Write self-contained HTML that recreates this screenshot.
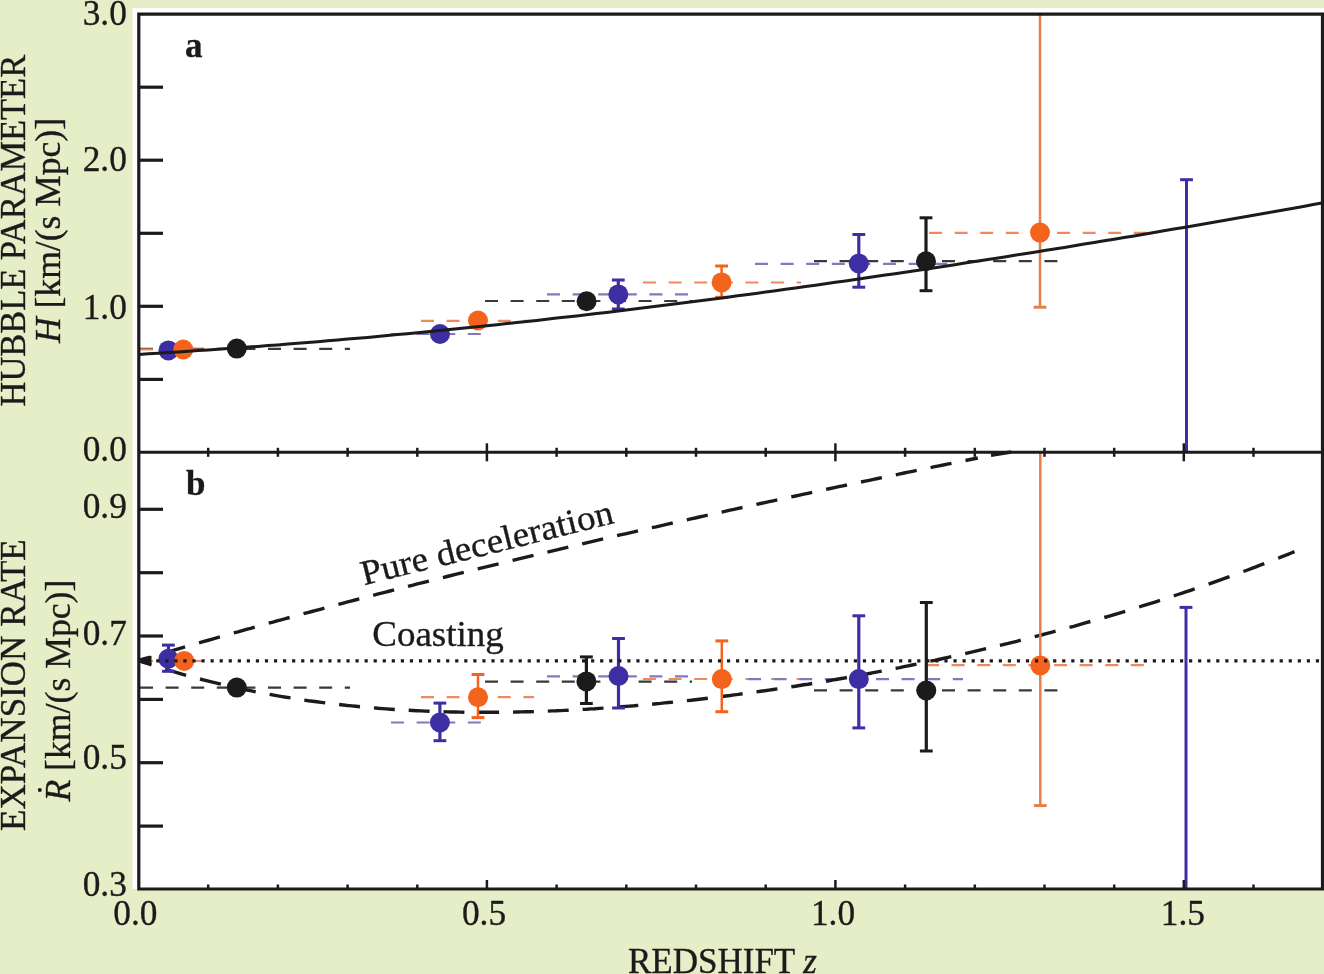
<!DOCTYPE html><html><head><meta charset="utf-8"><style>html,body{margin:0;padding:0;background:#e5eec6;}svg{display:block;will-change:transform}text{font-family:"Liberation Serif",serif;fill:#1c1a1b}</style></head><body>
<svg width="1324" height="974" viewBox="0 0 1324 974">
<rect width="1324" height="974" fill="#e5eec6"/>
<rect x="132.5" y="8.2" width="1191.5" height="880.8" fill="#fff"/>
<line x1="140" y1="348.8" x2="350" y2="348.8" stroke="#3a3839" stroke-width="2.2" stroke-dasharray="13 12.6" opacity="1.0"/>
<line x1="140" y1="349.5" x2="204" y2="349.5" stroke="#ef8a5c" stroke-width="2.2" stroke-dasharray="13 12.6" opacity="1.0"/>
<line x1="391" y1="334" x2="489" y2="334" stroke="#8079bd" stroke-width="2.2" stroke-dasharray="13 12.6" opacity="1.0"/>
<line x1="421" y1="320.8" x2="534" y2="320.8" stroke="#ef8a5c" stroke-width="2.2" stroke-dasharray="13 12.6" opacity="1.0"/>
<line x1="485" y1="301.0" x2="692" y2="301.0" stroke="#3a3839" stroke-width="2.2" stroke-dasharray="13 12.6" opacity="1.0"/>
<line x1="547" y1="294.4" x2="690" y2="294.4" stroke="#8079bd" stroke-width="2.2" stroke-dasharray="13 12.6" opacity="1.0"/>
<line x1="643" y1="282.5" x2="801" y2="282.5" stroke="#ef8a5c" stroke-width="2.2" stroke-dasharray="13 12.6" opacity="1.0"/>
<line x1="755" y1="263.8" x2="963" y2="263.8" stroke="#8079bd" stroke-width="2.2" stroke-dasharray="13 12.6" opacity="1.0"/>
<line x1="814" y1="261.1" x2="1064" y2="261.1" stroke="#3a3839" stroke-width="2.2" stroke-dasharray="13 12.6" opacity="1.0"/>
<line x1="929" y1="232.8" x2="1148" y2="232.8" stroke="#ef8a5c" stroke-width="2.2" stroke-dasharray="13 12.6" opacity="1.0"/>
<line x1="140" y1="687.6" x2="350" y2="687.6" stroke="#3a3839" stroke-width="2.2" stroke-dasharray="13 12.6" opacity="1.0"/>
<line x1="140" y1="661" x2="204" y2="661" stroke="#ef8a5c" stroke-width="2.2" stroke-dasharray="13 12.6" opacity="1.0"/>
<line x1="391" y1="722.5" x2="481" y2="722.5" stroke="#8079bd" stroke-width="2.2" stroke-dasharray="13 12.6" opacity="1.0"/>
<line x1="421" y1="697.1" x2="534" y2="697.1" stroke="#ef8a5c" stroke-width="2.2" stroke-dasharray="13 12.6" opacity="1.0"/>
<line x1="485" y1="681.6" x2="692" y2="681.6" stroke="#3a3839" stroke-width="2.2" stroke-dasharray="13 12.6" opacity="1.0"/>
<line x1="547" y1="676.3" x2="690" y2="676.3" stroke="#8079bd" stroke-width="2.2" stroke-dasharray="13 12.6" opacity="1.0"/>
<line x1="643" y1="679" x2="801" y2="679" stroke="#ef8a5c" stroke-width="2.2" stroke-dasharray="13 12.6" opacity="1.0"/>
<line x1="748" y1="679.2" x2="963" y2="679.2" stroke="#8079bd" stroke-width="2.2" stroke-dasharray="13 12.6" opacity="1.0"/>
<line x1="814" y1="690.3" x2="1063" y2="690.3" stroke="#3a3839" stroke-width="2.2" stroke-dasharray="13 12.6" opacity="1.0"/>
<line x1="926" y1="665.2" x2="1148" y2="665.2" stroke="#ef8a5c" stroke-width="2.2" stroke-dasharray="13 12.6" opacity="1.0"/>
<path d="M138.5,660.6 L140.8,659.9 L143.2,659.2 L145.5,658.5 L147.9,657.8 L150.2,657.1 M164.2,653.0 L168.3,651.8 L172.5,650.5 L176.7,649.3 L180.9,648.1 L185.1,646.9 M199.0,642.8 L203.2,641.6 L207.4,640.5 L211.5,639.3 L215.7,638.1 L219.9,636.9 M233.8,632.9 L238.0,631.8 L242.2,630.6 L246.4,629.4 L250.6,628.3 L254.7,627.1 M268.7,623.2 L272.9,622.1 L277.0,620.9 L281.2,619.8 L285.4,618.7 L289.6,617.5 M303.5,613.7 L307.7,612.6 L311.9,611.5 L316.1,610.4 L320.2,609.3 L324.4,608.1 M338.4,604.4 L342.5,603.3 L346.7,602.2 L350.9,601.1 L355.1,600.0 L359.3,598.9 M373.2,595.3 L377.4,594.2 L381.6,593.1 L385.7,592.1 L389.9,591.0 L394.1,589.9 M408.0,586.4 L412.2,585.3 L416.4,584.2 L420.6,583.2 L424.8,582.1 L428.9,581.1 M442.9,577.6 L447.1,576.5 L451.2,575.5 L455.4,574.4 L459.6,573.4 L463.8,572.4 M477.7,568.9 L481.9,567.9 L486.1,566.9 L490.3,565.8 L494.4,564.8 L498.6,563.8 M512.6,560.4 L516.7,559.4 L520.9,558.4 L525.1,557.4 L529.3,556.4 L533.5,555.4 M547.4,552.1 L551.6,551.1 L555.8,550.1 L559.9,549.1 L564.1,548.1 L568.3,547.1 M582.2,543.8 L586.4,542.8 L590.6,541.9 L594.8,540.9 L599.0,539.9 L603.1,538.9 M617.1,535.7 L621.3,534.7 L625.4,533.8 L629.6,532.8 L633.8,531.9 L638.0,530.9 M651.9,527.7 L656.1,526.8 L660.3,525.8 L664.5,524.9 L668.6,523.9 L672.8,523.0 M686.8,519.8 L690.9,518.9 L695.1,518.0 L699.3,517.0 L703.5,516.1 L707.7,515.2 M721.6,512.1 L725.8,511.2 L730.0,510.2 L734.1,509.3 L738.3,508.4 L742.5,507.5 M756.4,504.4 L760.6,503.5 L764.8,502.6 L769.0,501.7 L773.2,500.8 L777.3,499.9 M791.3,496.9 L795.5,496.0 L799.6,495.1 L803.8,494.2 L808.0,493.3 L812.2,492.4 M826.1,489.4 L830.3,488.5 L834.5,487.6 L838.7,486.7 L842.8,485.9 L847.0,485.0 M861.0,482.0 L865.1,481.2 L869.3,480.3 L873.5,479.4 L877.7,478.5 L881.9,477.7 M895.8,474.8 L900.0,473.9 L904.2,473.0 L908.3,472.2 L912.5,471.3 L916.7,470.4 M930.6,467.6 L934.8,466.7 L939.0,465.8 L943.2,465.0 L947.4,464.1 L951.5,463.3 M965.5,460.5 L967.9,460.0 L970.4,459.5 L972.9,459.0 L975.3,458.5 L977.8,458.0 M991,455.3 L1011,452.0" fill="none" stroke="#1c1a1b" stroke-width="3.4"/>
<path d="M138.5,660.5 L141.1,661.4 L143.6,662.3 L146.2,663.1 L148.8,664.0 L151.3,664.8 M165.2,669.2 L169.4,670.5 L173.6,671.7 L177.8,672.9 L181.9,674.1 L186.1,675.3 M200.0,679.0 L204.2,680.1 L208.4,681.2 L212.5,682.2 L216.7,683.2 L220.9,684.2 M234.8,687.4 L239.0,688.3 L243.1,689.2 L247.3,690.1 L251.5,690.9 L255.7,691.8 M269.6,694.4 L273.7,695.1 L277.9,695.9 L282.1,696.6 L286.3,697.3 L290.5,697.9 M304.3,700.1 L308.5,700.7 L312.7,701.2 L316.9,701.8 L321.1,702.4 L325.2,702.9 M339.1,704.5 L343.3,705.0 L347.5,705.5 L351.7,705.9 L355.8,706.3 L360.0,706.7 M373.9,707.9 L378.1,708.3 L382.3,708.6 L386.4,708.9 L390.6,709.2 L394.8,709.5 M408.7,710.3 L412.9,710.5 L417.0,710.7 L421.2,710.9 L425.4,711.1 L429.6,711.3 M443.5,711.7 L447.6,711.9 L451.8,712.0 L456.0,712.0 L460.2,712.1 L464.4,712.2 M478.2,712.3 L482.4,712.3 L486.6,712.3 L490.8,712.3 L495.0,712.3 L499.1,712.3 M513.0,712.1 L517.2,712.0 L521.4,711.9 L525.6,711.8 L529.7,711.7 L533.9,711.6 M547.8,711.1 L552.0,710.9 L556.2,710.8 L560.3,710.6 L564.5,710.4 L568.7,710.2 M582.6,709.4 L586.8,709.2 L590.9,708.9 L595.1,708.7 L599.3,708.4 L603.5,708.1 M617.4,707.1 L621.5,706.8 L625.7,706.4 L629.9,706.1 L634.1,705.8 L638.3,705.4 M652.1,704.2 L656.3,703.8 L660.5,703.4 L664.7,702.9 L668.9,702.5 L673.0,702.1 M686.9,700.6 L691.1,700.2 L695.3,699.7 L699.5,699.2 L703.6,698.7 L707.8,698.2 M721.7,696.5 L725.9,696.0 L730.1,695.5 L734.2,694.9 L738.4,694.4 L742.6,693.8 M756.5,691.9 L760.7,691.3 L764.8,690.7 L769.0,690.1 L773.2,689.5 L777.4,688.9 M791.3,686.8 L795.4,686.2 L799.6,685.5 L803.8,684.8 L808.0,684.2 L812.2,683.5 M826.0,681.2 L830.2,680.5 L834.4,679.7 L838.6,679.0 L842.8,678.3 L846.9,677.5 M860.8,675.0 L865.0,674.3 L869.2,673.5 L873.4,672.7 L877.5,671.9 L881.7,671.1 M895.6,668.4 L899.8,667.6 L904.0,666.7 L908.1,665.9 L912.3,665.0 L916.5,664.2 M930.4,661.2 L934.6,660.4 L938.7,659.5 L942.9,658.5 L947.1,657.6 L951.3,656.7 M965.2,653.6 L969.3,652.6 L973.5,651.7 L977.7,650.7 L981.9,649.7 L986.1,648.7 M999.9,645.4 L1004.1,644.4 L1008.3,643.4 L1012.5,642.3 L1016.7,641.3 L1020.8,640.2 M1034.7,636.7 L1038.9,635.6 L1043.1,634.5 L1047.3,633.4 L1051.4,632.3 L1055.6,631.2 M1069.5,627.4 L1073.7,626.3 L1077.9,625.1 L1082.0,623.9 L1086.2,622.7 L1090.4,621.5 M1104.3,617.5 L1108.5,616.3 L1112.6,615.1 L1116.8,613.8 L1121.0,612.6 L1125.2,611.3 M1139.1,607.0 L1143.2,605.7 L1147.4,604.4 L1151.6,603.1 L1155.8,601.8 L1160.0,600.4 M1173.8,595.9 L1178.0,594.5 L1182.2,593.1 L1186.4,591.7 L1190.6,590.3 L1194.7,588.9 M1208.6,584.1 L1212.8,582.6 L1217.0,581.1 L1221.2,579.6 L1225.3,578.1 L1229.5,576.6 M1243.4,571.5 L1247.6,570.0 L1251.8,568.4 L1255.9,566.8 L1260.1,565.2 L1264.3,563.6 M1278.2,558.2 L1281.4,556.9 L1284.7,555.6 L1288.0,554.3 L1291.2,553.0 L1294.5,551.7" fill="none" stroke="#1c1a1b" stroke-width="3.4"/>
<polygon points="140,658.3 151.5,655.8 151.5,665.5 140,662.8" fill="#1c1a1b"/>
<circle cx="168.4" cy="350.4" r="10" fill="#3d2fa3"/>
<circle cx="183.3" cy="349.5" r="10" fill="#f4631c"/>
<circle cx="236.8" cy="348.6" r="10" fill="#1c1a1b"/>
<circle cx="440" cy="334" r="10" fill="#3d2fa3"/>
<circle cx="478" cy="320.5" r="10" fill="#f4631c"/>
<circle cx="586.6" cy="301.3" r="10" fill="#1c1a1b"/>
<line x1="618.3" y1="280" x2="618.3" y2="309" stroke="#3d2fa3" stroke-width="3.2"/>
<line x1="611.9" y1="280" x2="624.6999999999999" y2="280" stroke="#3d2fa3" stroke-width="3"/>
<line x1="611.9" y1="309" x2="624.6999999999999" y2="309" stroke="#3d2fa3" stroke-width="3"/>
<circle cx="618.3" cy="294.4" r="10" fill="#3d2fa3"/>
<line x1="721.6" y1="266" x2="721.6" y2="297.3" stroke="#f4631c" stroke-width="2.5"/>
<line x1="715.2" y1="266" x2="728.0" y2="266" stroke="#f4631c" stroke-width="3"/>
<line x1="715.2" y1="297.3" x2="728.0" y2="297.3" stroke="#f4631c" stroke-width="3"/>
<circle cx="721.6" cy="282.4" r="10" fill="#f4631c"/>
<line x1="858.8" y1="234.5" x2="858.8" y2="287.2" stroke="#3d2fa3" stroke-width="3.2"/>
<line x1="852.4" y1="234.5" x2="865.1999999999999" y2="234.5" stroke="#3d2fa3" stroke-width="3"/>
<line x1="852.4" y1="287.2" x2="865.1999999999999" y2="287.2" stroke="#3d2fa3" stroke-width="3"/>
<circle cx="858.8" cy="263.5" r="10" fill="#3d2fa3"/>
<line x1="926" y1="217.8" x2="926" y2="290.7" stroke="#1c1a1b" stroke-width="3.2"/>
<line x1="919.6" y1="217.8" x2="932.4" y2="217.8" stroke="#1c1a1b" stroke-width="3"/>
<line x1="919.6" y1="290.7" x2="932.4" y2="290.7" stroke="#1c1a1b" stroke-width="3"/>
<circle cx="926" cy="261.2" r="10" fill="#1c1a1b"/>
<line x1="1040" y1="14" x2="1040" y2="307.2" stroke="#e97d4a" stroke-width="2.5"/>
<line x1="1033.6" y1="307.2" x2="1046.4" y2="307.2" stroke="#e97d4a" stroke-width="3"/>
<circle cx="1040" cy="232.6" r="10" fill="#f4631c"/>
<line x1="1186.5" y1="179.7" x2="1186.5" y2="452" stroke="#3d2fa3" stroke-width="3"/>
<line x1="1180.1" y1="179.7" x2="1192.9" y2="179.7" stroke="#3d2fa3" stroke-width="3"/>
<line x1="168.4" y1="645.1" x2="168.4" y2="671.3" stroke="#3d2fa3" stroke-width="3.2"/>
<line x1="162.0" y1="645.1" x2="174.8" y2="645.1" stroke="#3d2fa3" stroke-width="3"/>
<line x1="162.0" y1="671.3" x2="174.8" y2="671.3" stroke="#3d2fa3" stroke-width="3"/>
<circle cx="168.4" cy="658.8" r="10" fill="#3d2fa3"/>
<circle cx="184.2" cy="660.9" r="10" fill="#f4631c"/>
<circle cx="236.8" cy="687.6" r="10" fill="#1c1a1b"/>
<line x1="439.9" y1="703.1" x2="439.9" y2="740.7" stroke="#3d2fa3" stroke-width="3.2"/>
<line x1="433.5" y1="703.1" x2="446.29999999999995" y2="703.1" stroke="#3d2fa3" stroke-width="3"/>
<line x1="433.5" y1="740.7" x2="446.29999999999995" y2="740.7" stroke="#3d2fa3" stroke-width="3"/>
<circle cx="439.9" cy="722.5" r="10" fill="#3d2fa3"/>
<line x1="478" y1="674.5" x2="478" y2="717.6" stroke="#f4631c" stroke-width="2.5"/>
<line x1="471.6" y1="674.5" x2="484.4" y2="674.5" stroke="#f4631c" stroke-width="3"/>
<line x1="471.6" y1="717.6" x2="484.4" y2="717.6" stroke="#f4631c" stroke-width="3"/>
<circle cx="478" cy="697.2" r="10" fill="#f4631c"/>
<line x1="586.4" y1="656.9" x2="586.4" y2="703.5" stroke="#1c1a1b" stroke-width="3.2"/>
<line x1="580.0" y1="656.9" x2="592.8" y2="656.9" stroke="#1c1a1b" stroke-width="3"/>
<line x1="580.0" y1="703.5" x2="592.8" y2="703.5" stroke="#1c1a1b" stroke-width="3"/>
<circle cx="586.4" cy="681.4" r="10" fill="#1c1a1b"/>
<line x1="618.5" y1="638.5" x2="618.5" y2="708" stroke="#3d2fa3" stroke-width="3.2"/>
<line x1="612.1" y1="638.5" x2="624.9" y2="638.5" stroke="#3d2fa3" stroke-width="3"/>
<line x1="612.1" y1="708" x2="624.9" y2="708" stroke="#3d2fa3" stroke-width="3"/>
<circle cx="618.5" cy="676" r="10" fill="#3d2fa3"/>
<line x1="721.8" y1="640.9" x2="721.8" y2="711.7" stroke="#f4631c" stroke-width="2.5"/>
<line x1="715.4" y1="640.9" x2="728.1999999999999" y2="640.9" stroke="#f4631c" stroke-width="3"/>
<line x1="715.4" y1="711.7" x2="728.1999999999999" y2="711.7" stroke="#f4631c" stroke-width="3"/>
<circle cx="721.8" cy="679.1" r="10" fill="#f4631c"/>
<line x1="858.8" y1="615.8" x2="858.8" y2="727.9" stroke="#3d2fa3" stroke-width="3.2"/>
<line x1="852.4" y1="615.8" x2="865.1999999999999" y2="615.8" stroke="#3d2fa3" stroke-width="3"/>
<line x1="852.4" y1="727.9" x2="865.1999999999999" y2="727.9" stroke="#3d2fa3" stroke-width="3"/>
<circle cx="858.8" cy="679.1" r="10" fill="#3d2fa3"/>
<line x1="926.3" y1="602.5" x2="926.3" y2="751" stroke="#1c1a1b" stroke-width="3.2"/>
<line x1="919.9" y1="602.5" x2="932.6999999999999" y2="602.5" stroke="#1c1a1b" stroke-width="3"/>
<line x1="919.9" y1="751" x2="932.6999999999999" y2="751" stroke="#1c1a1b" stroke-width="3"/>
<circle cx="926.3" cy="690.5" r="10" fill="#1c1a1b"/>
<line x1="1040.3" y1="452" x2="1040.3" y2="805.6" stroke="#e97d4a" stroke-width="2.5"/>
<line x1="1033.8999999999999" y1="805.6" x2="1046.7" y2="805.6" stroke="#e97d4a" stroke-width="3"/>
<circle cx="1040.3" cy="665.4" r="10" fill="#f4631c"/>
<line x1="1186" y1="607.4" x2="1186" y2="889" stroke="#3d2fa3" stroke-width="3"/>
<line x1="1179.6" y1="607.4" x2="1192.4" y2="607.4" stroke="#3d2fa3" stroke-width="3"/>
<path d="M138.5,354.4 L148.5,353.8 L158.4,353.2 L168.4,352.5 L178.3,351.9 L188.3,351.3 L198.2,350.6 L208.2,349.9 L218.1,349.3 L228.1,348.6 L238.1,347.9 L248.0,347.1 L258.0,346.4 L267.9,345.6 L277.9,344.9 L287.8,344.1 L297.8,343.3 L307.7,342.5 L317.7,341.7 L327.7,340.8 L337.6,340.0 L347.6,339.1 L357.5,338.3 L367.5,337.4 L377.4,336.5 L387.4,335.6 L397.3,334.6 L407.3,333.7 L417.3,332.7 L427.2,331.8 L437.2,330.8 L447.1,329.8 L457.1,328.8 L467.0,327.8 L477.0,326.8 L486.9,325.7 L496.9,324.7 L506.9,323.6 L516.8,322.5 L526.8,321.5 L536.7,320.4 L546.7,319.3 L556.6,318.1 L566.6,317.0 L576.6,315.9 L586.5,314.7 L596.5,313.5 L606.4,312.4 L616.4,311.2 L626.3,310.0 L636.3,308.8 L646.2,307.5 L656.2,306.3 L666.2,305.1 L676.1,303.8 L686.1,302.5 L696.0,301.3 L706.0,300.0 L715.9,298.7 L725.9,297.4 L735.8,296.1 L745.8,294.7 L755.8,293.4 L765.7,292.0 L775.7,290.7 L785.6,289.3 L795.6,287.9 L805.5,286.6 L815.5,285.2 L825.4,283.8 L835.4,282.3 L845.4,280.9 L855.3,279.5 L865.3,278.0 L875.2,276.6 L885.2,275.1 L895.1,273.7 L905.1,272.2 L915.0,270.7 L925.0,269.2 L935.0,267.7 L944.9,266.2 L954.9,264.7 L964.8,263.1 L974.8,261.6 L984.7,260.0 L994.7,258.5 L1004.6,256.9 L1014.6,255.3 L1024.6,253.8 L1034.5,252.2 L1044.5,250.6 L1054.4,249.0 L1064.4,247.4 L1074.3,245.7 L1084.3,244.1 L1094.2,242.5 L1104.2,240.8 L1114.2,239.2 L1124.1,237.5 L1134.1,235.9 L1144.0,234.2 L1154.0,232.5 L1163.9,230.8 L1173.9,229.1 L1183.8,227.4 L1193.8,225.7 L1203.8,224.0 L1213.7,222.2 L1223.7,220.5 L1233.6,218.8 L1243.6,217.0 L1253.5,215.3 L1263.5,213.5 L1273.5,211.7 L1283.4,210.0 L1293.4,208.2 L1303.3,206.4 L1313.3,204.6 L1323.2,202.8" fill="none" stroke="#1c1a1b" stroke-width="3"/>
<line x1="138.06" y1="660.9" x2="1322" y2="660.9" stroke="#1c1a1b" stroke-width="3.2" stroke-dasharray="3.2 5.86"/>
<path d="M138.8,889 L138.8,14.1 L1322.5,14.1 L1322.5,889 Z" fill="none" stroke="#1c1a1b" stroke-width="3.2"/>
<line x1="138.8" y1="452.3" x2="1322.5" y2="452.3" stroke="#1c1a1b" stroke-width="3"/>
<line x1="138.8" y1="379.4" x2="163" y2="379.4" stroke="#1c1a1b" stroke-width="3.2"/>
<line x1="138.8" y1="306.3" x2="163" y2="306.3" stroke="#1c1a1b" stroke-width="3.2"/>
<line x1="138.8" y1="233.3" x2="163" y2="233.3" stroke="#1c1a1b" stroke-width="3.2"/>
<line x1="138.8" y1="160.2" x2="163" y2="160.2" stroke="#1c1a1b" stroke-width="3.2"/>
<line x1="138.8" y1="87.2" x2="163" y2="87.2" stroke="#1c1a1b" stroke-width="3.2"/>
<line x1="138.8" y1="826.1" x2="163" y2="826.1" stroke="#1c1a1b" stroke-width="3.2"/>
<line x1="138.8" y1="762.7" x2="163" y2="762.7" stroke="#1c1a1b" stroke-width="3.2"/>
<line x1="138.8" y1="699.4" x2="163" y2="699.4" stroke="#1c1a1b" stroke-width="3.2"/>
<line x1="138.8" y1="636.0" x2="163" y2="636.0" stroke="#1c1a1b" stroke-width="3.2"/>
<line x1="138.8" y1="572.7" x2="163" y2="572.7" stroke="#1c1a1b" stroke-width="3.2"/>
<line x1="138.8" y1="509.3" x2="163" y2="509.3" stroke="#1c1a1b" stroke-width="3.2"/>
<line x1="208.2" y1="889" x2="208.2" y2="884.5" stroke="#1c1a1b" stroke-width="2.5"/>
<line x1="208.2" y1="452.3" x2="208.2" y2="447.8" stroke="#1c1a1b" stroke-width="2.5"/>
<line x1="208.2" y1="452.3" x2="208.2" y2="456.8" stroke="#1c1a1b" stroke-width="2.5"/>
<line x1="277.9" y1="889" x2="277.9" y2="884.5" stroke="#1c1a1b" stroke-width="2.5"/>
<line x1="277.9" y1="452.3" x2="277.9" y2="447.8" stroke="#1c1a1b" stroke-width="2.5"/>
<line x1="277.9" y1="452.3" x2="277.9" y2="456.8" stroke="#1c1a1b" stroke-width="2.5"/>
<line x1="347.6" y1="889" x2="347.6" y2="884.5" stroke="#1c1a1b" stroke-width="2.5"/>
<line x1="347.6" y1="452.3" x2="347.6" y2="447.8" stroke="#1c1a1b" stroke-width="2.5"/>
<line x1="347.6" y1="452.3" x2="347.6" y2="456.8" stroke="#1c1a1b" stroke-width="2.5"/>
<line x1="417.3" y1="889" x2="417.3" y2="884.5" stroke="#1c1a1b" stroke-width="2.5"/>
<line x1="417.3" y1="452.3" x2="417.3" y2="447.8" stroke="#1c1a1b" stroke-width="2.5"/>
<line x1="417.3" y1="452.3" x2="417.3" y2="456.8" stroke="#1c1a1b" stroke-width="2.5"/>
<line x1="486.9" y1="889" x2="486.9" y2="880" stroke="#1c1a1b" stroke-width="2.5"/>
<line x1="486.9" y1="452.3" x2="486.9" y2="443.3" stroke="#1c1a1b" stroke-width="2.5"/>
<line x1="486.9" y1="452.3" x2="486.9" y2="461.3" stroke="#1c1a1b" stroke-width="2.5"/>
<line x1="556.6" y1="889" x2="556.6" y2="884.5" stroke="#1c1a1b" stroke-width="2.5"/>
<line x1="556.6" y1="452.3" x2="556.6" y2="447.8" stroke="#1c1a1b" stroke-width="2.5"/>
<line x1="556.6" y1="452.3" x2="556.6" y2="456.8" stroke="#1c1a1b" stroke-width="2.5"/>
<line x1="626.3" y1="889" x2="626.3" y2="884.5" stroke="#1c1a1b" stroke-width="2.5"/>
<line x1="626.3" y1="452.3" x2="626.3" y2="447.8" stroke="#1c1a1b" stroke-width="2.5"/>
<line x1="626.3" y1="452.3" x2="626.3" y2="456.8" stroke="#1c1a1b" stroke-width="2.5"/>
<line x1="696.0" y1="889" x2="696.0" y2="884.5" stroke="#1c1a1b" stroke-width="2.5"/>
<line x1="696.0" y1="452.3" x2="696.0" y2="447.8" stroke="#1c1a1b" stroke-width="2.5"/>
<line x1="696.0" y1="452.3" x2="696.0" y2="456.8" stroke="#1c1a1b" stroke-width="2.5"/>
<line x1="765.7" y1="889" x2="765.7" y2="884.5" stroke="#1c1a1b" stroke-width="2.5"/>
<line x1="765.7" y1="452.3" x2="765.7" y2="447.8" stroke="#1c1a1b" stroke-width="2.5"/>
<line x1="765.7" y1="452.3" x2="765.7" y2="456.8" stroke="#1c1a1b" stroke-width="2.5"/>
<line x1="835.4" y1="889" x2="835.4" y2="880" stroke="#1c1a1b" stroke-width="2.5"/>
<line x1="835.4" y1="452.3" x2="835.4" y2="443.3" stroke="#1c1a1b" stroke-width="2.5"/>
<line x1="835.4" y1="452.3" x2="835.4" y2="461.3" stroke="#1c1a1b" stroke-width="2.5"/>
<line x1="905.1" y1="889" x2="905.1" y2="884.5" stroke="#1c1a1b" stroke-width="2.5"/>
<line x1="905.1" y1="452.3" x2="905.1" y2="447.8" stroke="#1c1a1b" stroke-width="2.5"/>
<line x1="905.1" y1="452.3" x2="905.1" y2="456.8" stroke="#1c1a1b" stroke-width="2.5"/>
<line x1="974.8" y1="889" x2="974.8" y2="884.5" stroke="#1c1a1b" stroke-width="2.5"/>
<line x1="974.8" y1="452.3" x2="974.8" y2="447.8" stroke="#1c1a1b" stroke-width="2.5"/>
<line x1="974.8" y1="452.3" x2="974.8" y2="456.8" stroke="#1c1a1b" stroke-width="2.5"/>
<line x1="1044.5" y1="889" x2="1044.5" y2="884.5" stroke="#1c1a1b" stroke-width="2.5"/>
<line x1="1044.5" y1="452.3" x2="1044.5" y2="447.8" stroke="#1c1a1b" stroke-width="2.5"/>
<line x1="1044.5" y1="452.3" x2="1044.5" y2="456.8" stroke="#1c1a1b" stroke-width="2.5"/>
<line x1="1114.2" y1="889" x2="1114.2" y2="884.5" stroke="#1c1a1b" stroke-width="2.5"/>
<line x1="1114.2" y1="452.3" x2="1114.2" y2="447.8" stroke="#1c1a1b" stroke-width="2.5"/>
<line x1="1114.2" y1="452.3" x2="1114.2" y2="456.8" stroke="#1c1a1b" stroke-width="2.5"/>
<line x1="1183.8" y1="889" x2="1183.8" y2="880" stroke="#1c1a1b" stroke-width="2.5"/>
<line x1="1183.8" y1="452.3" x2="1183.8" y2="443.3" stroke="#1c1a1b" stroke-width="2.5"/>
<line x1="1183.8" y1="452.3" x2="1183.8" y2="461.3" stroke="#1c1a1b" stroke-width="2.5"/>
<line x1="1253.5" y1="889" x2="1253.5" y2="884.5" stroke="#1c1a1b" stroke-width="2.5"/>
<line x1="1253.5" y1="452.3" x2="1253.5" y2="447.8" stroke="#1c1a1b" stroke-width="2.5"/>
<line x1="1253.5" y1="452.3" x2="1253.5" y2="456.8" stroke="#1c1a1b" stroke-width="2.5"/>
<text x="126.8" y="24.6" font-size="35.3" text-anchor="end" stroke="#1c1a1b" stroke-width="0.35" >3.0</text>
<text x="126.8" y="171.2" font-size="35.3" text-anchor="end" stroke="#1c1a1b" stroke-width="0.35" >2.0</text>
<text x="126.8" y="318.5" font-size="35.3" text-anchor="end" stroke="#1c1a1b" stroke-width="0.35" >1.0</text>
<text x="126.8" y="460.8" font-size="35.3" text-anchor="end" stroke="#1c1a1b" stroke-width="0.35" >0.0</text>
<text x="126.8" y="518.3" font-size="35.3" text-anchor="end" stroke="#1c1a1b" stroke-width="0.35" >0.9</text>
<text x="126.8" y="644.6" font-size="35.3" text-anchor="end" stroke="#1c1a1b" stroke-width="0.35" >0.7</text>
<text x="126.8" y="769.2" font-size="35.3" text-anchor="end" stroke="#1c1a1b" stroke-width="0.35" >0.5</text>
<text x="126.8" y="895.8" font-size="35.3" text-anchor="end" stroke="#1c1a1b" stroke-width="0.35" >0.3</text>
<text x="135.4" y="924.7" font-size="35.3" text-anchor="middle" stroke="#1c1a1b" stroke-width="0.35" >0.0</text>
<text x="484" y="924.7" font-size="35.3" text-anchor="middle" stroke="#1c1a1b" stroke-width="0.35" >0.5</text>
<text x="833" y="924.7" font-size="35.3" text-anchor="middle" stroke="#1c1a1b" stroke-width="0.35" >1.0</text>
<text x="1182.8" y="924.7" font-size="35.3" text-anchor="middle" stroke="#1c1a1b" stroke-width="0.35" >1.5</text>
<text x="628" y="973" font-size="35" text-anchor="start" stroke="#1c1a1b" stroke-width="0.35" >REDSHIFT <tspan font-style="italic">z</tspan></text>
<text x="185" y="56.6" font-size="35" text-anchor="start" stroke="#1c1a1b" stroke-width="0.35" font-weight="bold">a</text>
<text x="186" y="494.7" font-size="35" text-anchor="start" stroke="#1c1a1b" stroke-width="0.35" font-weight="bold">b</text>
<text x="372.2" y="645.9" font-size="36" text-anchor="start" stroke="#1c1a1b" stroke-width="0.35" textLength="131.7" lengthAdjust="spacingAndGlyphs">Coasting</text>
<text transform="translate(364,585.3) rotate(-13.95)" font-size="35" stroke="#1c1a1b" stroke-width="0.35" textLength="259" lengthAdjust="spacingAndGlyphs">Pure deceleration</text>
<text transform="translate(25.2,406.4) rotate(-90)" font-size="35" stroke="#1c1a1b" stroke-width="0.35" textLength="351.5" lengthAdjust="spacingAndGlyphs">HUBBLE PARAMETER</text>
<text transform="translate(60.2,343) rotate(-90)" font-size="35" stroke="#1c1a1b" stroke-width="0.35" textLength="225" lengthAdjust="spacingAndGlyphs"><tspan font-style="italic">H</tspan> [km/(s Mpc)]</text>
<text transform="translate(25.2,830.9) rotate(-90)" font-size="35" stroke="#1c1a1b" stroke-width="0.35" textLength="291.6" lengthAdjust="spacingAndGlyphs">EXPANSION RATE</text>
<text transform="translate(70,801.6) rotate(-90)" font-size="35" stroke="#1c1a1b" stroke-width="0.35" textLength="222" lengthAdjust="spacingAndGlyphs"><tspan font-style="italic">R</tspan> [km/(s Mpc)]</text>
<circle cx="39.8" cy="790" r="2" fill="#1c1a1b"/>
</svg></body></html>
